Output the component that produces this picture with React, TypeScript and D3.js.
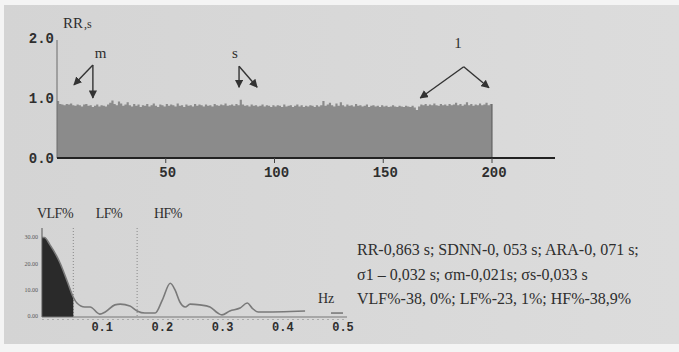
import React from "react";
import * as d3 from "d3";

// RR intervals, s (200 beats)
const rrValues = [
  0.95, 0.9, 0.89, 0.88, 0.9, 0.89, 0.91, 0.88, 0.87, 0.89, 0.88, 0.86, 0.89, 0.9, 0.87, 0.88, 0.85, 0.87, 0.89, 0.86,
  0.88, 0.87, 0.86, 0.89, 0.92, 0.96, 0.9, 0.88, 0.94, 0.91, 0.87, 0.89, 0.93, 0.88, 0.86, 0.9, 0.87, 0.89, 0.85, 0.88,
  0.87, 0.9, 0.86, 0.88, 0.91, 0.87, 0.85, 0.89, 0.88, 0.86, 0.9, 0.87, 0.89, 0.88, 0.86, 0.91, 0.87, 0.88, 0.85, 0.89,
  0.87, 0.88, 0.86, 0.9, 0.87, 0.89, 0.88, 0.86, 0.89, 0.87, 0.88, 0.86, 0.9, 0.88, 0.87, 0.89, 0.88, 0.91, 0.87, 0.88,
  0.89, 0.87, 0.9, 0.88, 0.97, 0.89, 0.87, 0.88, 0.86, 0.89, 0.87, 0.88, 0.86, 0.87, 0.89, 0.86, 0.88, 0.87, 0.85, 0.88,
  0.86, 0.88, 0.87, 0.85, 0.89, 0.86, 0.87, 0.88, 0.85, 0.87, 0.89, 0.86, 0.88, 0.85, 0.87, 0.86, 0.88, 0.87, 0.85, 0.88,
  0.86, 0.88, 0.95, 0.87, 0.89, 0.92, 0.88, 0.86, 0.91, 0.87, 0.93, 0.88, 0.86, 0.89, 0.87, 0.88, 0.86, 0.9, 0.87, 0.88,
  0.86, 0.87, 0.89, 0.85, 0.87, 0.88, 0.86, 0.87, 0.85, 0.88, 0.86, 0.87, 0.85, 0.86, 0.88, 0.86, 0.85, 0.87, 0.86, 0.85,
  0.87, 0.86, 0.85, 0.87, 0.84, 0.8, 0.86, 0.89, 0.88, 0.9, 0.87, 0.89, 0.88, 0.91, 0.88, 0.87, 0.9, 0.88, 0.89, 0.87,
  0.9, 0.88, 0.89, 0.92, 0.88, 0.9, 0.87, 0.89, 0.93, 0.88, 0.9, 0.87, 0.89, 0.88, 0.91, 0.88, 0.89, 0.92, 0.88, 0.9,
];
const rrTicksY = [0, 1, 2];
const rrTicksX = [50, 100, 150, 200];

// annotation arrows in data units: label, label pos, apex, tips
const marks = [
  { label: "m", at: [20, 1.66], apex: [16.5, 1.55], tips: [[7.8, 1.22], [16.5, 1.0]] },
  { label: "s", at: [81.8, 1.66], apex: [83.7, 1.53], tips: [[83.7, 1.18], [92, 1.18]] },
  { label: "1", at: [184.4, 1.83], apex: [187, 1.52], tips: [[167, 1.0], [198.6, 1.17]] },
];

// power spectrum
const freq = [0, 0.004, 0.013, 0.03, 0.042, 0.052, 0.058, 0.071, 0.08, 0.096, 0.105, 0.121, 0.13, 0.146, 0.158,
  0.171, 0.188, 0.2, 0.213, 0.221, 0.229, 0.238, 0.246, 0.262, 0.279, 0.292, 0.299, 0.312, 0.329, 0.341, 0.349,
  0.359, 0.437];
const power = [30.2, 30.2, 27.5, 20.5, 13.5, 7.5, 5.3, 3.8, 3.8, 1.1, 1.9, 4.6, 4.9, 4.2, 2.3,
  1.5, 1.5, 6.5, 12.8, 10.3, 5.7, 3.8, 4.9, 4.6, 3.8, 1.5, 0.8, 2.3, 3.4, 5.3, 3.4,
  1.9, 2.3];
const tailFreq = [0.48, 0.5];
const tailPower = [1.5, 1.5];
const vlfEnd = 0.052;
const bandLines = [0.052, 0.158];
const bandLabels = ["VLF%", "LF%", "HF%"];
const specTicksY = [0, 10, 20, 30];
const specTicksX = [0.1, 0.2, 0.3, 0.4, 0.5];

const statLines = [
  "RR-0,863 s; SDNN-0, 053 s; ARA-0, 071 s;",
  "σ1 – 0,032 s; σm-0,021s; σs-0,033 s",
  "VLF%-38, 0%; LF%-23, 1%; HF%-38,9%",
];

const W = 679;
const H = 352;
const ink = "#2e2e2e";
const mono = "'Liberation Mono', 'DejaVu Sans Mono', monospace";
const serif = "'Liberation Serif', 'DejaVu Serif', serif";

export default function App() {
  const x = d3.scaleLinear().domain([0, 200]).range([57, 492]);
  const y = d3.scaleLinear().domain([0, 2]).range([158, 38]);

  const bars = d3
    .area<number>()
    .x((_, i) => x(i))
    .y0(y(0))
    .y1((d) => y(d))
    .curve(d3.curveStepAfter);
  const barData = [...rrValues, rrValues[rrValues.length - 1]];

  const fx = d3.scaleLinear().domain([0, 0.5]).range([42, 343]);
  const fy = d3.scaleLinear().domain([0, 30]).range([317, 238]);

  const spec = freq.map((f, i) => [f, power[i]] as [number, number]);
  const tail = tailFreq.map((f, i) => [f, tailPower[i]] as [number, number]);
  const line = d3
    .line<[number, number]>()
    .x((d) => fx(d[0]))
    .y((d) => fy(d[1]))
    .curve(d3.curveMonotoneX);
  const vlf = spec.filter((d) => d[0] <= vlfEnd);
  const area = d3
    .area<[number, number]>()
    .x((d) => fx(d[0]))
    .y0(fy(0))
    .y1((d) => fy(d[1]))
    .curve(d3.curveMonotoneX);

  const bandX = [55, 109, 168];

  return (
    <svg width={W} height={H} style={{ position: "absolute", left: 0, top: 0 }}>
      <defs>
        <marker id="ah" viewBox="0 0 10 10" refX="9" refY="5" markerWidth="6" markerHeight="6" orient="auto">
          <path d="M0,0 L10,5 L0,10 z" fill="#333" />
        </marker>
        <linearGradient id="bg" x1="0" y1="0" x2="1" y2="0">
          <stop offset="0%" stopColor="#d4d4d4" />
          <stop offset="100%" stopColor="#dcdcdc" />
        </linearGradient>
      </defs>
      <rect width={W} height={H} fill="#f4f4f4" />
      <rect x={4} y={5} width={W - 4} height={339} fill="url(#bg)" />

      {/* RR rhythmogram */}
      <path d={bars(barData) ?? ""} fill="#8b8b8b" />
      <line x1={x(0)} x2={x(0)} y1={y(2) + 2} y2={y(0)} stroke="#6a6a6a" strokeWidth={1} />
      <line x1={x(200)} x2={x(200)} y1={y(0.9)} y2={y(0)} stroke="#555" strokeWidth={1} />
      <line x1={x(0)} x2={555} y1={y(0)} y2={y(0)} stroke="#222" strokeWidth={2} />
      {rrTicksX.map((t) => (
        <g key={t}>
          <line x1={x(t)} x2={x(t)} y1={y(0)} y2={y(0) + 5} stroke="#444" />
          <text x={x(t) + 2} y={y(0) + 19} textAnchor="middle" fontFamily={mono} fontWeight="bold" fontSize={14} fill={ink}>
            {t}
          </text>
        </g>
      ))}
      {rrTicksY.map((t) => (
        <text key={t} x={x(0) - 3} y={y(t) + 1} textAnchor="end" dominantBaseline="middle" fontFamily={mono} fontWeight="bold" fontSize={14} fill={ink}>
          {t.toFixed(1)}
        </text>
      ))}
      <text x={63} y={28} fontFamily={serif} fontSize={15} fill={ink}>
        RR<tspan fontSize={12} dx={1}>,s</tspan>
      </text>
      {marks.map((m) => (
        <g key={m.label}>
          <text x={x(m.at[0])} y={y(m.at[1])} fontFamily={serif} fontSize={15} fill={ink} textAnchor="middle">
            {m.label}
          </text>
          {m.tips.map((t, j) => (
            <line key={j} x1={x(m.apex[0])} y1={y(m.apex[1])} x2={x(t[0])} y2={y(t[1])} stroke="#333" strokeWidth={1.4} markerEnd="url(#ah)" />
          ))}
        </g>
      ))}

      {/* spectrum */}
      {bandLabels.map((b, i) => (
        <text key={b} x={bandX[i]} y={218} textAnchor="middle" fontFamily={serif} fontSize={14} letterSpacing={-0.5} fill={ink}>
          {b}
        </text>
      ))}
      {bandLines.map((b) => (
        <line key={b} x1={fx(b)} x2={fx(b)} y1={228} y2={fy(0)} stroke="#888" strokeDasharray="1,2" />
      ))}
      <path d={area(vlf) ?? ""} fill="#2a2a2a" />
      <path d={line(spec) ?? ""} fill="none" stroke="#7a7a7a" strokeWidth={1.6} />
      <path d={line(tail) ?? ""} fill="none" stroke="#7a7a7a" strokeWidth={1.6} />
      <line x1={fx(0)} x2={fx(0)} y1={228} y2={fy(0)} stroke="#555" />
      <line x1={fx(0)} x2={347} y1={fy(0)} y2={fy(0)} stroke="#777" strokeWidth={1.2} />
      <line x1={fx(0)} x2={347} y1={fy(0) + 2.5} y2={fy(0) + 2.5} stroke="#aaa" strokeDasharray="2,3" />
      {specTicksY.map((t) => (
        <text key={t} x={fx(0) - 4} y={fy(t)} textAnchor="end" dominantBaseline="middle" fontFamily={serif} fontSize={6} fill="#555">
          {t.toFixed(2)}
        </text>
      ))}
      {specTicksX.map((t) => (
        <text key={t} x={fx(t)} y={fy(0) + 14} textAnchor="middle" fontFamily={mono} fontWeight="bold" fontSize={12} fill={ink}>
          {t.toFixed(1)}
        </text>
      ))}
      <text x={318} y={303} fontFamily={serif} fontSize={14} fill={ink}>
        Hz
      </text>

      {/* summary */}
      {statLines.map((s, i) => (
        <text key={i} x={357} y={255 + i * 24.5} fontFamily={serif} fontSize={16} fill={ink}>
          {s}
        </text>
      ))}
    </svg>
  );
}
